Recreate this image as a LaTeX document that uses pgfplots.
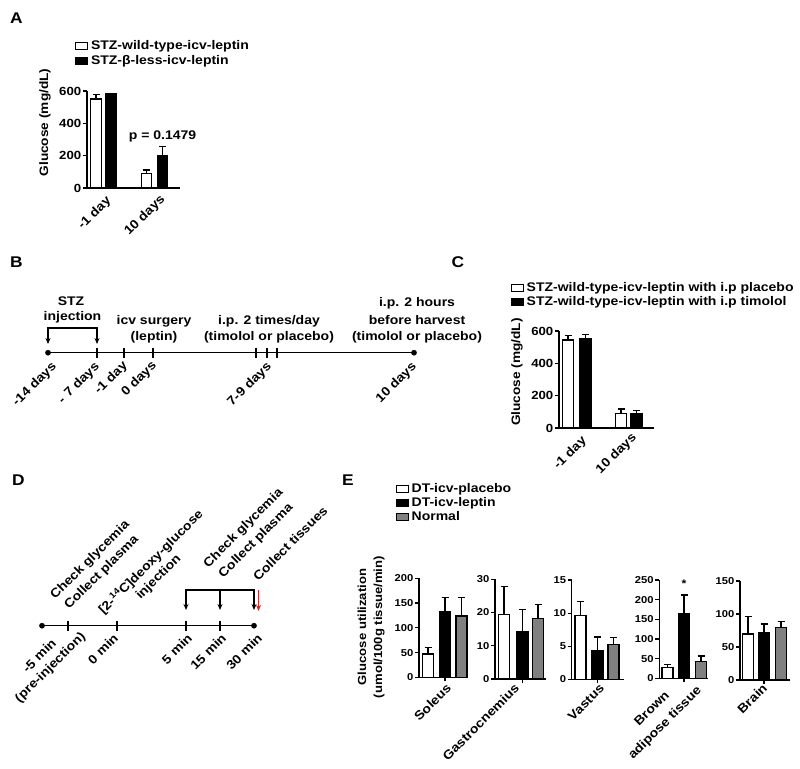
\documentclass[border=0pt]{standalone}
\usepackage{fontspec}
\setmainfont{Liberation Sans}[FakeStretch=1.12]
\usepackage{pgfplots}
\pgfplotsset{compat=1.18}
\usetikzlibrary{arrows.meta}
\definecolor{gbarc}{RGB}{128,128,128}
\definecolor{myred}{RGB}{228,32,36}
\newcommand\lf{\fontsize{12.5}{14.5}\selectfont\bfseries}
\newcommand\tf{\fontsize{11.8}{13}\selectfont\bfseries}
\newcommand\ef{\fontsize{10}{12}\selectfont\bfseries}
\newcommand\yf{\fontsize{12.2}{14}\selectfont\bfseries}
\newcommand\pf{\fontsize{15.5}{17}\selectfont\bfseries}
\pgfplotsset{
  gp/.style={scale only axis, anchor=south west, axis lines=left,
    axis line style={-, line width=1.2pt, black},
    tick align=outside, major tick length=4pt,
    tick style={line width=1.2pt, black},
    ymin=0, clip=false, enlargelimits=false,
    /pgf/number format/assume math mode=true,
    yticklabel style={font=\tf, inner sep=1.5pt},
    legend style={draw=none, fill=none, font=\lf, inner sep=0pt, outer sep=0pt,
      row sep=0pt, column sep=2pt, nodes={inner sep=1pt, text height=9.5pt, text depth=3pt}, anchor=north west},
    legend cell align=left},
  barbase/.style={ybar, bar shift=0pt, bar width=11, draw=black, line width=1.2pt,
    legend image code/.code={\draw[##1, line width=1pt, draw=black] (0pt,-3.5pt) rectangle (12pt,3.5pt);}},
  wbar/.style={barbase, fill=white},
  bbar/.style={barbase, fill=black},
  gbar/.style={barbase, fill=gbarc},
  errs/.style={error bars/.cd, y dir=plus, y explicit,
    error bar style={line width=1.2pt, black},
    error mark options={rotate=90, line width=1.2pt, black, mark size=3.5pt}},
  tl/.style={black, line width=1.5pt},
  dots/.style={only marks, mark=*, mark size=2.6pt, black},
  tks/.style={only marks, mark=|, mark size=5pt, black, mark options={line width=1.3pt}},
  arr/.style={black, line width=1.3pt, arrows={-Stealth[length=6pt,width=5pt]}},
  arr2/.style={black, line width=1.3pt, arrows={Stealth[length=6pt,width=5pt]-Stealth[length=6pt,width=5pt]}},
}
\begin{document}
\begin{tikzpicture}
\useasboundingbox (0pt,0pt) rectangle (800pt,-768pt);
% ---------- overlay axis: timelines and free text ----------
\begin{axis}[at={(0pt,0pt)}, anchor=north west, scale only axis, width=800pt, height=768pt,
  xmin=0, xmax=800, ymin=-768, ymax=0, hide axis, clip=false]
% panel letters
\node[font=\pf] at (16.5,-18.5) {A};
\node[font=\pf] at (16.5,-262) {B};
\node[font=\pf] at (458,-262) {C};
\node[font=\pf] at (18.5,-480.5) {D};
\node[font=\pf] at (348,-480) {E};
% ---- panel A texts
\node[font=\yf, rotate=90] at (45,-122.5) {Glucose (mg/dL)};
\node[font=\lf] at (162.5,-136) {p = 0.1479};
\node[font=\lf, rotate=45, anchor=base east, inner sep=0pt] at (111.5,-201) {-1 day};
\node[font=\lf, rotate=45, anchor=base east, inner sep=0pt] at (165.5,-199.5) {10 days};
% ---- panel B timeline
\addplot[tl] coordinates {(48,-352.7) (414,-352.7)};
\addplot[dots] coordinates {(48,-352.7) (414,-352.7)};
\addplot[tks] coordinates {(97,-352.7) (124,-352.7) (153,-352.7) (256,-352.7) (267,-352.7) (277,-352.7)};
\addplot[arr2] coordinates {(48,-344) (48,-328) (97,-328) (97,-344)};
\node[font=\lf] at (71,-301) {STZ};
\node[font=\lf] at (72.5,-317.5) {injection};
\node[font=\lf] at (154,-321) {icv surgery};
\node[font=\lf] at (154,-337) {(leptin)};
\node[font=\lf] at (269,-321) {i.p. 2 times/day};
\node[font=\lf] at (269,-337) {(timolol or placebo)};
\node[font=\lf] at (417,-303) {i.p. 2 hours};
\node[font=\lf] at (417,-320) {before harvest};
\node[font=\lf] at (417,-337) {(timolol or placebo)};
\begin{scope}[every node/.style={font=\lf, rotate=45, anchor=base east, inner sep=0pt}]
\node at (57,-367) {-14 days};
\node at (100,-367) {- 7 days};
\node at (128,-366) {-1 day};
\node at (157,-366) {0 days};
\node at (272,-367) {7-9 days};
\node at (417,-367) {10 days};
\end{scope}
% ---- panel C texts
\node[font=\yf, rotate=90] at (517,-372) {Glucose (mg/dL)};
\node[font=\lf, rotate=45, anchor=base east, inner sep=0pt] at (587,-441) {-1 day};
\node[font=\lf, rotate=45, anchor=base east, inner sep=0pt] at (637,-438) {10 days};
% ---- panel D timeline
\addplot[tl] coordinates {(42,-625.7) (254,-625.7)};
\addplot[dots] coordinates {(42,-625.7) (254,-625.7)};
\addplot[tks] coordinates {(68,-625.7) (117,-625.7) (186,-625.7) (220,-625.7)};
\addplot[arr2] coordinates {(186,-610) (186,-590) (254,-590) (254,-610)};
\addplot[arr] coordinates {(220,-590) (220,-610)};
\addplot[arr, myred] coordinates {(258.5,-590) (258.5,-611)};
\begin{scope}[every node/.style={font=\lf, rotate=45, anchor=base west, inner sep=0pt}]
\node at (55,-600) {Check glycemia};
\node at (69,-610) {Collect plasma};
\node at (103.5,-615) {[2-\textsuperscript{14}C]deoxy-glucose};
\node at (140.5,-600) {injection};
\node at (208.3,-568.3) {Check glycemia};
\node at (223.3,-578.3) {Collect plasma};
\node at (258.3,-581.7) {Collect tissues};
\end{scope}
\begin{scope}[every node/.style={font=\lf, rotate=45, anchor=base east, inner sep=0pt}]
\node at (57,-644) {-5 min};
\node at (86,-637) {(pre-injection)};
\node at (119,-639) {0 min};
\node at (193,-639) {5 min};
\node at (227,-639) {15 min};
\node at (263,-639) {30 min};
\end{scope}
% ---- panel E texts
\node[font=\fontsize{11.7}{16}\selectfont\bfseries, rotate=90, align=center] at (371,-627) {Glucose utilization\\(umol/100g tissue/min)};
\node[font=\fontsize{11}{12}\selectfont\bfseries] at (684,-584) {*};
\begin{scope}[every node/.style={font=\lf, rotate=45, anchor=base east, inner sep=0pt}]
\node at (452,-689) {Soleus};
\node at (520,-689) {Gastrocnemius};
\node at (605,-689) {Vastus};
\node at (670,-696) {Brown};
\node at (702,-691) {adipose tissue};
\node at (768,-689) {Brain};
\end{scope}
\end{axis}
% ---------- panel A ----------
\begin{axis}[gp, at={(87pt,-188pt)}, width=93pt, height=97pt, xmin=87, xmax=180, ymax=600,
  ytick={0,200,400,600}, xtick=\empty, legend style={at={(-0.129,1.534)}}]
\addplot[wbar, bar width=10.5, errs] coordinates {(96,550) +- (0,28) (146.5,91) +- (0,20)};
\addplot[bbar, bar width=10.5, errs] coordinates {(111,581) +- (0,3) (162.5,200) +- (0,55)};
\legend{STZ-wild-type-icv-leptin, STZ-β-less-icv-leptin}
\end{axis}
% ---------- panel C ----------
\begin{axis}[gp, at={(559pt,-428pt)}, width=95pt, height=97pt, xmin=559, xmax=654, ymax=600,
  ytick={0,200,400,600}, xtick=\empty, legend style={at={(-0.508,1.513)}, row sep=-0.8pt}]
\addplot[wbar, bar width=11.5, errs] coordinates {(568,544) +- (0,27) (621,88) +- (0,29)};
\addplot[bbar, bar width=11.5, errs] coordinates {(585.5,550) +- (0,30) (636.5,90) +- (0,19)};
\legend{STZ-wild-type-icv-leptin with i.p placebo, STZ-wild-type-icv-leptin with i.p timolol}
\end{axis}
% ---------- panel E: Soleus ----------
\begin{axis}[gp, at={(419pt,-677.3pt)}, width=49pt, height=99pt, xmin=419, xmax=468, ymax=200,
  ytick={0,50,100,150,200}, xtick={445}, xticklabels={}, yticklabel style={font=\ef},
  legend style={at={(-0.476,1.975)}, row sep=-0.5pt}]
\addplot[wbar, errs] coordinates {(428,47) +- (0,13)};
\addplot[bbar, errs] coordinates {(445,132.5) +- (0,29)};
\addplot[gbar, errs] coordinates {(461.5,124) +- (0,37)};
\legend{DT-icv-placebo, DT-icv-leptin, Normal}
\end{axis}
% ---------- Gastrocnemius ----------
\begin{axis}[gp, at={(495pt,-679pt)}, width=51pt, height=99.7pt, xmin=495, xmax=546, ymax=30,
  ytick={0,10,20,30}, xtick={522.5}, xticklabels={}, yticklabel style={font=\ef}]
\addplot[wbar, errs] coordinates {(504,19.3) +- (0,8.6)};
\addplot[bbar, errs] coordinates {(522.5,14.3) +- (0,6.6)};
\addplot[gbar, errs] coordinates {(538,18.1) +- (0,4.2)};
\end{axis}
% ---------- Vastus ----------
\begin{axis}[gp, at={(571.7pt,-679.3pt)}, width=52.3pt, height=99.3pt, xmin=571.7, xmax=624, ymax=15,
  ytick={0,5,10,15}, xtick={597.5}, xticklabels={}, yticklabel style={font=\ef}]
\addplot[wbar, errs] coordinates {(580.5,9.6) +- (0,2.2)};
\addplot[bbar, errs] coordinates {(597.5,4.4) +- (0,2.0)};
\addplot[gbar, errs] coordinates {(613.5,5.3) +- (0,1.0)};
\end{axis}
% ---------- Brown adipose tissue ----------
\begin{axis}[gp, at={(659.3pt,-678.3pt)}, width=48.7pt, height=98.3pt, xmin=659.3, xmax=708, ymax=250,
  ytick={0,50,100,150,200,250}, xtick={684}, xticklabels={}, yticklabel style={font=\ef}]
\addplot[wbar, errs] coordinates {(667.5,27) +- (0,8.6)};
\addplot[bbar, errs] coordinates {(684,165) +- (0,47)};
\addplot[gbar, errs] coordinates {(701,42.3) +- (0,14.4)};
\end{axis}
% ---------- Brain ----------
\begin{axis}[gp, at={(740pt,-680pt)}, width=50pt, height=99pt, xmin=740, xmax=790, ymax=150,
  ytick={0,50,100,150}, xtick={764}, xticklabels={}, yticklabel style={font=\ef}]
\addplot[wbar, errs] coordinates {(748,69.7) +- (0,26.3)};
\addplot[bbar, errs] coordinates {(764,71.7) +- (0,13.3)};
\addplot[gbar, errs] coordinates {(781,79.8) +- (0,8.5)};
\end{axis}
\end{tikzpicture}
\end{document}
